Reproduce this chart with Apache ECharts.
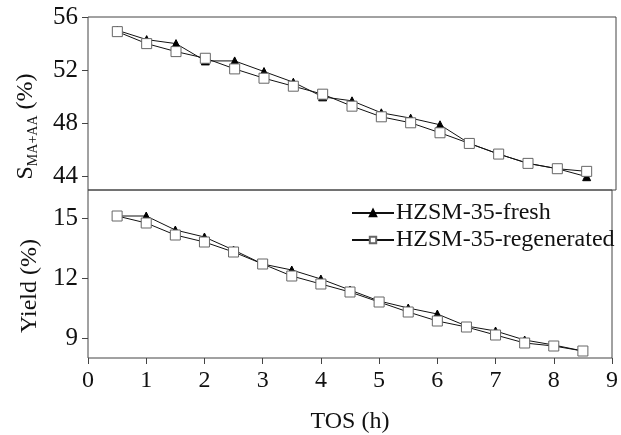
<!DOCTYPE html>
<html>
<head>
<meta charset="utf-8">
<script src="https://cdn.jsdelivr.net/npm/echarts@6/dist/echarts.min.js"></script>
<style>html,body{margin:0;padding:0;background:#fff}#c{width:621px;height:435px}</style>
</head>
<body>
<div id="c"></div>
<script>
const tos = [0.5,1,1.5,2,2.5,3,3.5,4,4.5,5,5.5,6,6.5,7,7.5,8,8.5];
const selFresh = [55.0,54.3,54.0,52.7,52.7,51.9,51.1,50.0,49.7,48.8,48.4,47.9,46.5,45.7,45.0,44.6,44.0];
const selRegen = [54.9,54.0,53.4,52.9,52.1,51.4,50.8,50.2,49.3,48.5,48.05,47.3,46.5,45.7,45.0,44.6,44.4];
const yieldFresh = [15.1,15.1,14.4,14.05,13.4,12.7,12.4,11.95,11.4,10.85,10.5,10.2,9.6,9.35,8.9,8.65,8.35];
const yieldRegen = [15.1,14.75,14.15,13.8,13.3,12.7,12.1,11.7,11.3,10.8,10.3,9.85,9.55,9.15,8.75,8.6,8.35];
const selTicks = [44,48,52,56];
const yieldTicks = [9,12,15];
const seriesNames = ['HZSM-35-fresh','HZSM-35-regenerated'];

const font = 'Liberation Serif';
const axisCol = '#444';
const txt = '#111';
const pair = (xs, ys) => xs.map((x,i)=>[x, ys[i]]);

const chart = echarts.init(document.getElementById('c'), null, {renderer:'canvas'});
const freshStyle = {
  type:'line', symbol:'triangle', symbolSize:8,
  lineStyle:{color:'#111', width:1},
  itemStyle:{color:'#000', borderColor:'#000', borderWidth:1},
  emphasis:{disabled:true}, animation:false
};
const regenStyle = {
  type:'line', symbol:'rect', symbolSize:10,
  lineStyle:{color:'#111', width:1},
  itemStyle:{color:'#fff', borderColor:'#666', borderWidth:1},
  emphasis:{disabled:true}, animation:false
};
chart.setOption({
  animation:false,
  grid:[
    {left:88, right:5, top:17, height:173, show:true, borderColor:axisCol, borderWidth:1},
    {left:88, right:5, top:190, height:172, show:true, borderColor:axisCol, borderWidth:1}
  ],
  legend:{
    data:seriesNames, orient:'vertical', left:346, top:196,
    itemWidth:42, itemHeight:8, itemGap:3,
    textStyle:{fontFamily:font, fontSize:24, color:txt, padding:[0,0,0,-3]},
    inactiveColor:'#ccc'
  },
  xAxis:[
    {gridIndex:0, type:'value', min:0, max:9, interval:1, show:false},
    {gridIndex:1, type:'value', min:0, max:9, interval:1,
     name:'TOS (h)', nameLocation:'middle', nameGap:52,
     nameTextStyle:{fontFamily:font, fontSize:24, color:txt},
     axisLine:{show:false}, splitLine:{show:false},
     axisTick:{show:true, inside:false, length:6, lineStyle:{color:axisCol}},
     axisLabel:{fontFamily:font, fontSize:24, color:txt, margin:11}}
  ],
  yAxis:[
    {gridIndex:0, type:'value', min:43, max:56,
     name:'{a|S}{b|MA+AA}{a| (%)}', nameLocation:'middle', nameGap:48, nameRotate:90,
     nameTextStyle:{fontFamily:font, color:txt, padding:[0,46,0,0],
       rich:{a:{fontFamily:font, fontSize:24, color:txt, lineHeight:26, verticalAlign:'top'},
             b:{fontFamily:font, fontSize:14, color:txt, lineHeight:14, verticalAlign:'bottom'}}},
     axisLine:{show:false}, splitLine:{show:false},
     axisTick:{show:true, length:6, lineStyle:{color:axisCol}, customValues:selTicks},
     axisLabel:{fontFamily:font, fontSize:25, color:txt, margin:10, customValues:selTicks}},
    {gridIndex:1, type:'value', min:8, max:16.4,
     name:'Yield (%)', nameLocation:'middle', nameGap:46, nameRotate:90,
     nameTextStyle:{fontFamily:font, fontSize:24, color:txt, padding:[0,24,0,0]},
     axisLine:{show:false}, splitLine:{show:false},
     axisTick:{show:true, length:6, lineStyle:{color:axisCol}, customValues:yieldTicks},
     axisLabel:{fontFamily:font, fontSize:25, color:txt, margin:10, customValues:yieldTicks}}
  ],
  series:[
    Object.assign({name:seriesNames[0], xAxisIndex:0, yAxisIndex:0, data:pair(tos, selFresh)}, freshStyle),
    Object.assign({name:seriesNames[1], xAxisIndex:0, yAxisIndex:0, data:pair(tos, selRegen)}, regenStyle),
    Object.assign({name:seriesNames[0], xAxisIndex:1, yAxisIndex:1, data:pair(tos, yieldFresh)}, freshStyle),
    Object.assign({name:seriesNames[1], xAxisIndex:1, yAxisIndex:1, data:pair(tos, yieldRegen)}, regenStyle)
  ]
});
</script>
</body>
</html>
